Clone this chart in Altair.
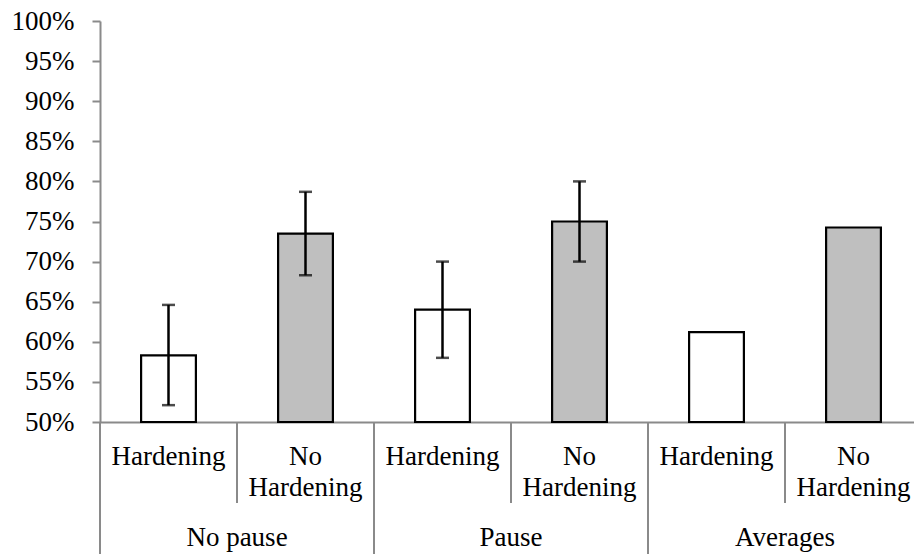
import altair as alt
import pandas as pd

groups = ["No pause", "No pause", "Pause", "Pause", "Averages", "Averages"]
conditions = ["Hardening", "No Hardening", "Hardening", "No Hardening", "Hardening", "No Hardening"]
values = [0.583, 0.735, 0.640, 0.750, 0.612, 0.7425]
err_low = [0.521, 0.683, 0.580, 0.700, None, None]
err_high = [0.646, 0.787, 0.700, 0.800, None, None]
y_ticks = [0.50, 0.55, 0.60, 0.65, 0.70, 0.75, 0.80, 0.85, 0.90, 0.95, 1.00]

slots = [f"{g}|{c}" for g, c in zip(groups, conditions)]
row1 = ["Hardening" if c == "Hardening" else "No" for c in conditions]
row2 = ["" if c == "Hardening" else "Hardening" for c in conditions]

df = pd.DataFrame({
    "slot": slots, "group": groups, "cond": conditions, "value": values,
    "lo": err_low, "hi": err_high, "row1": row1, "row2": row2,
})
df_err = df.dropna(subset=["lo"])
df_first = df[df["cond"] == "Hardening"]
df_second = df[df["cond"] == "No Hardening"]

FONT = "Liberation Serif"
FS = 27
AXIS_GRAY = "#8a8a8a"

xscale = alt.Scale(domain=slots, range=[0, 822], paddingInner=0, paddingOuter=0)
yscale = alt.Scale(domain=[0.5, 1.0], nice=False, zero=False)

base = alt.Chart(df)

bars = base.mark_bar(
    width=alt.RelativeBandSize(0.4), stroke="black", strokeWidth=2.2
).encode(
    x=alt.X("slot:N", scale=xscale, sort=slots,
            axis=alt.Axis(title=None, labels=False, ticks=False, domainColor=AXIS_GRAY,
                          domainWidth=2, grid=False)),
    y=alt.Y("value:Q", scale=yscale,
            axis=alt.Axis(title=None, values=y_ticks, format=".0%", grid=False,
                          domainColor=AXIS_GRAY, domainWidth=2, tickColor=AXIS_GRAY,
                          tickWidth=2, tickSize=8, labelFont=FONT, labelFontSize=FS,
                          labelColor="black", labelPadding=18)),
    y2=alt.datum(0.5),
    fill=alt.Fill("cond:N", scale=alt.Scale(domain=["Hardening", "No Hardening"],
                                            range=["#ffffff", "#bfbfbf"]), legend=None),
)

err_rule = alt.Chart(df_err).mark_rule(color="black", strokeWidth=2.5).encode(
    x=alt.X("slot:N", scale=xscale, sort=slots, bandPosition=0.5),
    y=alt.Y("lo:Q", scale=yscale),
    y2="hi:Q",
)
cap_lo = alt.Chart(df_err).mark_tick(color="black", thickness=2.5, size=13).encode(
    x=alt.X("slot:N", scale=xscale, sort=slots, bandPosition=0.5),
    y=alt.Y("lo:Q", scale=yscale),
)
cap_hi = alt.Chart(df_err).mark_tick(color="black", thickness=2.5, size=13).encode(
    x=alt.X("slot:N", scale=xscale, sort=slots, bandPosition=0.5),
    y=alt.Y("hi:Q", scale=yscale),
)

long_div = alt.Chart(df_first).mark_rule(color=AXIS_GRAY, strokeWidth=2).encode(
    x=alt.X("slot:N", scale=xscale, sort=slots, bandPosition=0),
    y=alt.value(401), y2=alt.value(540),
)
short_div = alt.Chart(df_second).mark_rule(color=AXIS_GRAY, strokeWidth=2).encode(
    x=alt.X("slot:N", scale=xscale, sort=slots, bandPosition=0),
    y=alt.value(401), y2=alt.value(482),
)

txt1 = base.mark_text(font=FONT, fontSize=FS, baseline="alphabetic", color="black").encode(
    x=alt.X("slot:N", scale=xscale, sort=slots, bandPosition=0.5),
    y=alt.value(444), text="row1:N",
)
txt2 = base.mark_text(font=FONT, fontSize=FS, baseline="alphabetic", color="black").encode(
    x=alt.X("slot:N", scale=xscale, sort=slots, bandPosition=0.5),
    y=alt.value(475), text="row2:N",
)
grp = alt.Chart(df_second).mark_text(font=FONT, fontSize=FS, baseline="alphabetic",
                                     color="black").encode(
    x=alt.X("slot:N", scale=xscale, sort=slots, bandPosition=0),
    y=alt.value(525), text="group:N",
)

chart = alt.layer(
    bars, err_rule, cap_lo, cap_hi, long_div, short_div, txt1, txt2, grp
).properties(
    width=814, height=401,
    autosize=alt.AutoSizeParams(type="none"),
    padding={"left": 100, "top": 21, "right": 0, "bottom": 132},
    background="white",
).configure_view(stroke=None)

chart.save("out.html", embed_options={"renderer": "svg", "actions": False})
